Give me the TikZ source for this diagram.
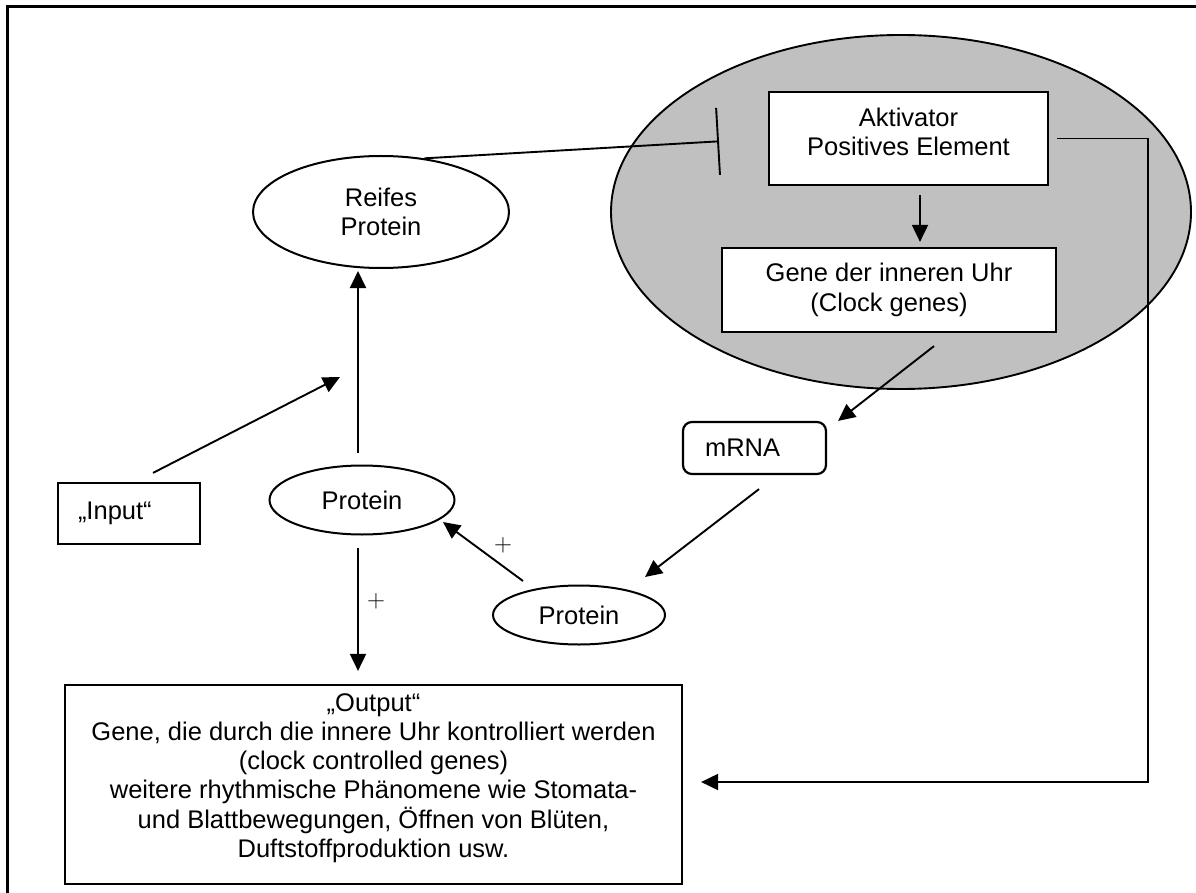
\documentclass[tikz,border=0pt]{standalone}
\usepackage{fontspec}
\setmainfont{Liberation Sans}
\usetikzlibrary{arrows.meta,shapes.geometric}
\definecolor{uhrgrau}{RGB}{192,192,192}

\begin{document}
\begin{tikzpicture}[x=1pt, y=-1pt, font=\fontsize{25.5}{29.3}\selectfont,
    box/.style={draw, line width=2.2pt, inner sep=0pt, align=center},
    oval/.style={ellipse, draw, line width=2pt, inner sep=0pt, align=center},
    arr/.style={line width=1.9pt, -{Triangle[length=17pt,width=16pt]}},
    plus/.style={font=\fontsize{32}{36}\selectfont}]
  \useasboundingbox (0,0) rectangle (1196,893);
  % frame
  \draw[line width=3pt] (7,893) -- (7,7) -- (1196,7);
  % clock
  \node[ellipse, draw, fill=uhrgrau, line width=1.9pt, minimum width=580pt, minimum height=354pt] (uhr) at (901,212) {};
  \node[box, fill=white, minimum width=279pt, minimum height=93pt] (akt) at (908.5,138.5) {Aktivator\\Positives Element\\[-16pt]};
  \node[box, fill=white, minimum width=334pt, minimum height=84pt] (gene) at (889,290) {Gene der inneren Uhr\\(Clock genes)};
  % nodes
  \node[oval, minimum width=256pt, minimum height=112pt] (reifes) at (381,212) {Reifes\\Protein};
  \node[oval, minimum width=185pt, minimum height=69pt] (oben) at (362,500) {Protein};
  \node[oval, minimum width=172pt, minimum height=59pt] (unten) at (579,615) {Protein};
  \node[box, rounded corners=9pt, minimum width=143pt, minimum height=52pt, inner xsep=22pt, text width=99pt, align=left] (mrna) at (754.5,448) {mRNA};
  \node[box, minimum width=142pt, minimum height=61pt, inner xsep=20pt, text width=102pt, align=left] (input) at (129,513.5) {„Input“};
  \node[box] (ausgabe) at (373.5,784.5) {\parbox[c][199pt][t]{617pt}{\centering\rule{0pt}{26pt}„Output“\\Gene, die durch die innere Uhr kontrolliert werden\\(clock controlled genes)\\weitere rhythmische Phänomene wie Stomata-\\und Blattbewegungen, Öffnen von Blüten,\\Duftstoffproduktion usw.}};
  \node[plus] (plus1) at (503,545) {$+$};
  \node[plus] (plus2) at (376,601) {$+$};
  \coordinate (ziel) at (340,377);
  \coordinate (rk) at (1148,782);
  % connectors
  \draw[line width=1.9pt, -{Bar[width=67pt,line width=1.9pt]}, shorten >=49pt] (reifes.51) -- (akt.west);
  \draw[arr] ([xshift=11.5pt,yshift=-9pt]akt.south) -- ([xshift=31pt,yshift=5pt]gene.north);
  \draw[arr, shorten >=18pt] ([xshift=8pt]akt.east) -| (rk) -- (ausgabe.east |- rk);
  \draw[arr] ([xshift=45pt,yshift=-13pt]gene.south) -- ([xshift=11pt]mrna.north east);
  \draw[arr] ([xshift=4.5pt,yshift=-14pt]mrna.south) -- ([xshift=66pt,yshift=7.5pt]unten.north);
  \draw[arr] ([xshift=-56pt,yshift=3.5pt]unten.north) -- ([xshift=-12.5pt,yshift=-22pt]oben.east);
  \draw[arr] ([xshift=-4pt,yshift=11.5pt]oben.north) -- ([xshift=-23pt,yshift=-2pt]reifes.south);
  \draw[arr] ([xshift=-4pt,yshift=-12.5pt]oben.south) -- ([xshift=-15.5pt,yshift=13pt]ausgabe.north);
  \draw[arr] ([xshift=24pt,yshift=9pt]input.north) -- (ziel);
\end{tikzpicture}
\end{document}
